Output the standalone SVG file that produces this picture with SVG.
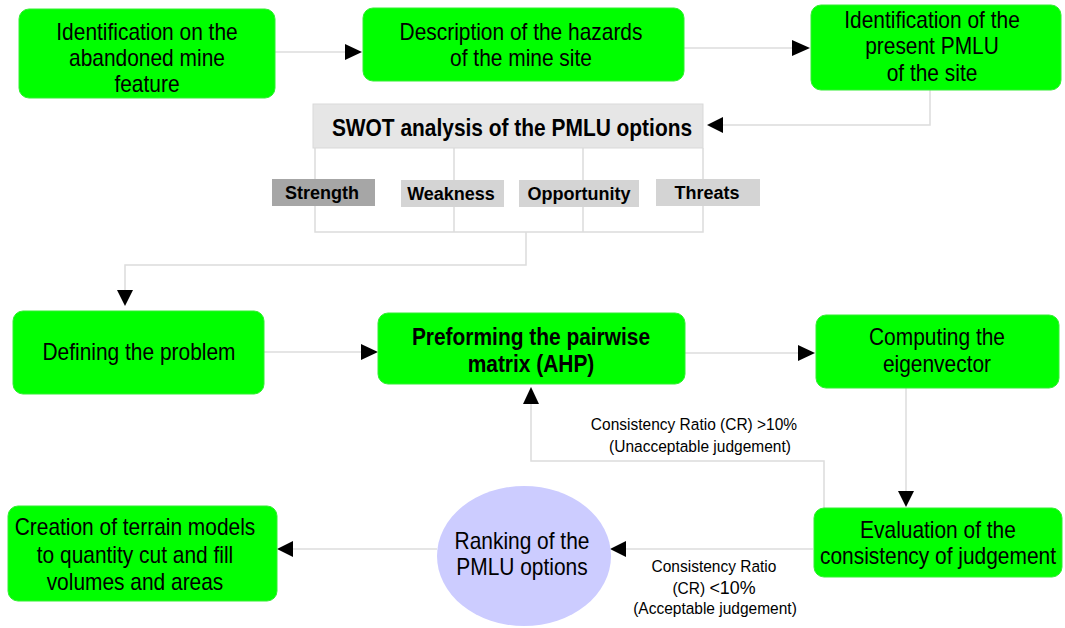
<svg xmlns="http://www.w3.org/2000/svg" width="1065" height="628" viewBox="0 0 1065 628">
<defs>
<style>
.box{fill:#00ff00;stroke:#33ee33;stroke-width:1}
.t{font-family:"Liberation Sans",Arial,sans-serif;font-size:23px;fill:#000;text-anchor:middle}
.b{font-weight:bold}
.lbl{font-family:"Liberation Sans",Arial,sans-serif;font-size:16.5px;fill:#000;text-anchor:middle}
.sw{font-family:"Liberation Sans",Arial,sans-serif;font-size:18px;font-weight:bold;fill:#000;text-anchor:middle}
.c{fill:none;stroke:#dcdcdc;stroke-width:1.5}
.ah{fill:#000}
</style>
</defs>
<rect width="1065" height="628" fill="#fff"/>
<g id="connectors">
<path class="c" d="M275 52 H346"/>
<path class="c" d="M684 48 H793"/>
<path class="c" d="M930 90 V125 H722"/>
<path class="c" d="M315 148 V232 H703 V148 M454 148 V232 M583 148 V232 M526 232 V265 H125 V290"/>
<path class="c" d="M264 352 H361"/>
<path class="c" d="M685 353 H798"/>
<path class="c" d="M906 388 V491"/>
<path class="c" d="M824 508 V461 H531 V404"/>
<path class="c" d="M813 549 H625"/>
<path class="c" d="M437 549 H293"/>
<polygon class="ah" points="345,44 345,60 362,52"/>
<polygon class="ah" points="792,40 792,56 810,48"/>
<polygon class="ah" points="723,117 723,133 707,125"/>
<polygon class="ah" points="117,290 133,290 125,306"/>
<polygon class="ah" points="361,344 361,360 378,352"/>
<polygon class="ah" points="798,345 798,361 815,353"/>
<polygon class="ah" points="898,491 914,491 906,507"/>
<polygon class="ah" points="523,404 539,404 531,387"/>
<polygon class="ah" points="626,541 626,557 610,549"/>
<polygon class="ah" points="293,541 293,557 277,549"/>
</g>
<g id="n1"><rect class="box" x="19" y="9" width="256" height="89" rx="10"/>
<text class="t" x="147" y="40" transform="matrix(0.91 0 0 1 13.23 0)">Identification on the</text>
<text class="t" x="147" y="66" transform="matrix(0.91 0 0 1 13.23 0)">abandoned mine</text>
<text class="t" x="147" y="92" transform="matrix(0.91 0 0 1 13.23 0)">feature</text></g>
<g id="n2"><rect class="box" x="363" y="8" width="321" height="73" rx="10"/>
<text class="t" x="521" y="40" transform="matrix(0.91 0 0 1 46.89 0)">Description of the hazards</text>
<text class="t" x="521" y="66" transform="matrix(0.91 0 0 1 46.89 0)">of the mine site</text></g>
<g id="n3"><rect class="box" x="811" y="5" width="250" height="85" rx="10"/>
<text class="t" x="932" y="28" transform="matrix(0.91 0 0 1 83.88 0)">Identification of the</text>
<text class="t" x="932" y="54" transform="matrix(0.91 0 0 1 83.88 0)">present PMLU</text>
<text class="t" x="932" y="81" transform="matrix(0.91 0 0 1 83.88 0)">of the site</text></g>
<g id="swot"><rect x="313" y="104" width="390" height="44" fill="#e6e6e6" stroke="#d9d9d9" stroke-width="1"/>
<text class="t b" x="512" y="136" transform="matrix(0.91 0 0 1 46.08 0)">SWOT analysis of the PMLU options</text></g>
<g id="strength"><rect x="272" y="179" width="103" height="27" fill="#a6a6a6"/>
<text class="sw" x="322" y="199">Strength</text></g>
<g id="weakness"><rect x="401" y="180" width="103" height="27" fill="#d4d4d4"/>
<text class="sw" x="451" y="200">Weakness</text></g>
<g id="opportunity"><rect x="519" y="180" width="120" height="27" fill="#d4d4d4"/>
<text class="sw" x="579" y="200">Opportunity</text></g>
<g id="threats"><rect x="656" y="179" width="104" height="27" fill="#d4d4d4"/>
<text class="sw" x="707" y="199">Threats</text></g>
<g id="n4"><rect class="box" x="13" y="311" width="251" height="83" rx="10"/>
<text class="t" x="139" y="360" transform="matrix(0.91 0 0 1 12.51 0)">Defining the problem</text></g>
<g id="n5"><rect class="box" x="378" y="313" width="307" height="71" rx="10"/>
<text class="t b" x="531" y="345" transform="matrix(0.91 0 0 1 47.79 0)">Preforming the pairwise</text>
<text class="t b" x="531" y="372" transform="matrix(0.91 0 0 1 47.79 0)">matrix (AHP)</text></g>
<g id="n6"><rect class="box" x="816" y="315" width="243" height="73" rx="10"/>
<text class="t" x="937" y="345" transform="matrix(0.91 0 0 1 84.33 0)">Computing the</text>
<text class="t" x="937" y="372" transform="matrix(0.91 0 0 1 84.33 0)">eigenvector</text></g>
<g id="n7"><rect class="box" x="814" y="508" width="248" height="69" rx="10"/>
<text class="t" x="938" y="538" transform="matrix(0.91 0 0 1 84.42 0)">Evaluation of the</text>
<text class="t" x="938" y="564" transform="matrix(0.91 0 0 1 84.42 0)">consistency of judgement</text></g>
<g id="n8"><ellipse cx="524" cy="556" rx="87" ry="70" fill="#ccccff"/>
<text class="t" x="522" y="549" transform="matrix(0.91 0 0 1 46.98 0)">Ranking of the</text>
<text class="t" x="522" y="575" transform="matrix(0.91 0 0 1 46.98 0)">PMLU options</text></g>
<g id="n9"><rect class="box" x="8" y="506" width="269" height="95" rx="10"/>
<text class="t" x="135" y="535" transform="matrix(0.91 0 0 1 12.15 0)">Creation of terrain models</text>
<text class="t" x="135" y="563" transform="matrix(0.91 0 0 1 12.15 0)">to quantity cut and fill</text>
<text class="t" x="135" y="590" transform="matrix(0.91 0 0 1 12.15 0)">volumes and areas</text></g>
<g id="labels">
<text class="lbl" x="694" y="430" transform="matrix(0.94 0 0 1 41.64 0)">Consistency Ratio (CR) &gt;10%</text>
<text class="lbl" x="700" y="452" transform="matrix(0.94 0 0 1 42 0)">(Unacceptable judgement)</text>
<text class="lbl" x="714" y="572" transform="matrix(0.94 0 0 1 42.84 0)">Consistency Ratio</text>
<text class="lbl" x="714" y="594" transform="matrix(0.94 0 0 1 42.84 0)"><tspan>(CR) </tspan><tspan font-size="19">&lt;10%</tspan></text>
<text class="lbl" x="715" y="614" transform="matrix(0.94 0 0 1 42.9 0)">(Acceptable judgement)</text>
</g>
</svg>
